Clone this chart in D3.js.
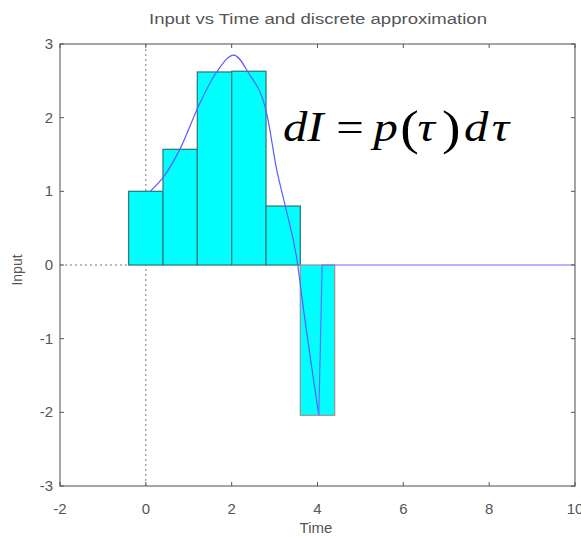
<!DOCTYPE html>
<html>
<head>
<meta charset="utf-8">
<script src="https://cdn.jsdelivr.net/npm/d3@7"></script>
<style>
html,body{margin:0;padding:0;background:#fff;}
svg{display:block;}
text{font-family:"Liberation Sans",Arial,sans-serif;fill:#555;}
</style>
</head>
<body>
<svg id="chart" width="581" height="537"></svg>
<script>
// ---- data ----
const titleText = "Input vs Time and discrete approximation";
const xLabelText = "Time";
const yLabelText = "Input";
const xTicks = [-2, 0, 2, 4, 6, 8, 10];
const yTicks = [-3, -2, -1, 0, 1, 2, 3];
// discrete approximation: bar left edges, widths, heights
const barStart = [-0.4, 0.4, 1.2, 2.0, 2.8, 3.6];
const barWidth = [0.8, 0.8, 0.8, 0.8, 0.8, 0.8];
const barValue = [1.0, 1.57, 2.62, 2.63, 0.80, -2.04];
// continuous input curve
const curveT = [0.1, 0.43, 0.8, 1.245, 1.65, 2.05, 2.38, 2.83, 3.05, 3.25, 3.54, 3.64, 4.03];
const curveV = [1.0, 1.21, 1.58, 2.18, 2.62, 2.85, 2.62, 2.02, 1.29, 0.80, 0.0, -0.45, -2.04];
const tailT = [4.03, 4.11, 10];
const tailV = [-2.04, 0, 0];
// formula pieces
const formulaParts = [
  {t: "dI", italic: true, big: false},
  {t: "=", italic: false, big: false},
  {t: "p", italic: true, big: false},
  {t: "(", italic: false, big: true},
  {t: "τ", italic: true, big: false},
  {t: ")", italic: false, big: true},
  {t: "d", italic: true, big: false},
  {t: "τ", italic: true, big: false}
];
const formulaX = [0, 46, 78, 101, 116, 137, 156, 180];

// ---- layout ----
const svg = d3.select("#chart");
const L = 60, R = 575, T = 44, B = 486;
const x = d3.scaleLinear().domain([-2, 10]).range([L, R]);
const y = d3.scaleLinear().domain([-3, 3]).range([B, T]);

// dotted zero lines
svg.append("line")
  .attr("x1", x(0)).attr("x2", x(0)).attr("y1", T).attr("y2", B)
  .attr("stroke", "#777").attr("stroke-width", 1).attr("stroke-dasharray", "2,3");
svg.append("line")
  .attr("x1", L).attr("x2", x(barStart[0])).attr("y1", y(0)).attr("y2", y(0))
  .attr("stroke", "#777").attr("stroke-width", 1).attr("stroke-dasharray", "2,3");

// bars
const bars = barStart.map((s, i) => ({s, w: barWidth[i], v: barValue[i]}));
svg.append("g").selectAll("rect").data(bars).join("rect")
  .attr("x", d => x(d.s))
  .attr("width", d => x(d.s + d.w) - x(d.s))
  .attr("y", d => y(Math.max(0, d.v)))
  .attr("height", d => Math.abs(y(d.v) - y(0)))
  .attr("fill", "#00ffff")
  .attr("stroke", d => d.v < 0 ? "#999" : "#2f7f7f")
  .attr("stroke-width", 1.3);

// curve
const line = d3.line().x(d => x(d[0])).y(d => y(d[1]));
svg.append("path")
  .datum(curveT.map((t, i) => [t, curveV[i]]))
  .attr("d", d3.line().x(d => x(d[0])).y(d => y(d[1])).curve(d3.curveMonotoneX))
  .attr("fill", "none").attr("stroke", "#5c5cff").attr("stroke-width", 1.2);
svg.append("path")
  .datum(tailT.map((t, i) => [t, tailV[i]]))
  .attr("d", line)
  .attr("fill", "none").attr("stroke", "#6b6bff").attr("stroke-width", 1.2);

// axes box
svg.append("rect")
  .attr("x", L).attr("y", T).attr("width", R - L).attr("height", B - T)
  .attr("fill", "none").attr("stroke", "#888").attr("stroke-width", 1.5);

// ticks (inward)
const tk = 4;
const xt = svg.append("g");
xTicks.forEach(v => {
  xt.append("line").attr("x1", x(v)).attr("x2", x(v)).attr("y1", B).attr("y2", B - tk).attr("stroke", "#555");
  xt.append("line").attr("x1", x(v)).attr("x2", x(v)).attr("y1", T).attr("y2", T + tk).attr("stroke", "#555");
  xt.append("text").attr("x", x(v)).attr("y", B + 28)
    .attr("text-anchor", "middle").attr("font-size", 15).text(v);
});
yTicks.forEach(v => {
  xt.append("line").attr("x1", L).attr("x2", L + tk).attr("y1", y(v)).attr("y2", y(v)).attr("stroke", "#555");
  xt.append("line").attr("x1", R).attr("x2", R - tk).attr("y1", y(v)).attr("y2", y(v)).attr("stroke", "#555");
  xt.append("text").attr("x", L - 7).attr("y", y(v) + 5)
    .attr("text-anchor", "end").attr("font-size", 15).text(v);
});

// title and labels
svg.append("text").attr("x", 318).attr("y", 24).attr("text-anchor", "middle")
  .attr("font-size", 14).attr("textLength", 338).attr("lengthAdjust", "spacingAndGlyphs")
  .text(titleText);
svg.append("text").attr("x", 316).attr("y", 533).attr("text-anchor", "middle")
  .attr("font-size", 15).text(xLabelText);
svg.append("text").attr("transform", "translate(22,270) rotate(-90)").attr("text-anchor", "middle")
  .attr("font-size", 14).text(yLabelText);

// formula
const fg = svg.append("g").attr("transform", "translate(283,141) scale(1.16,1)");
const f = fg.append("text")
  .style("font-family", "'Liberation Serif','Times New Roman',serif").style("fill", "#000")
  .attr("font-size", 42);
formulaParts.forEach((p, i) => {
  f.append("tspan")
    .attr("x", formulaX[i])
    .attr("y", p.big ? 3 : 0)
    .attr("font-style", p.italic ? "italic" : "normal")
    .attr("font-size", p.big ? 48 : 42)
    .text(p.t);
});
</script>
</body>
</html>
